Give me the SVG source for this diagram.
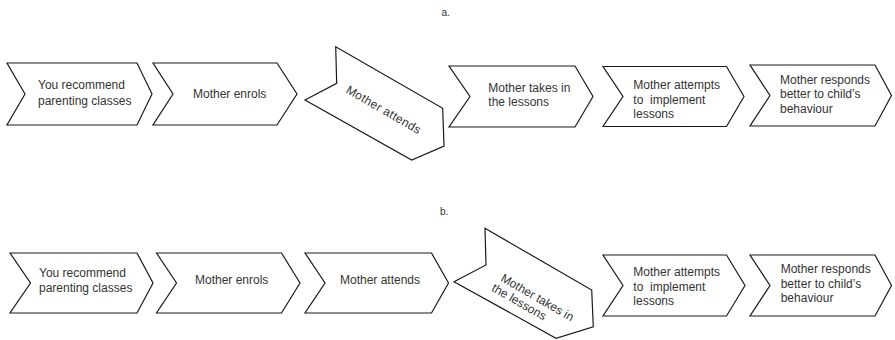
<svg xmlns="http://www.w3.org/2000/svg" width="895" height="340" viewBox="0 0 895 340">
<style>
  .chev { fill: #ffffff; stroke: #1a1a1a; stroke-width: 1.2; stroke-linejoin: miter; }
  .t { font-family: "Liberation Sans", Arial, sans-serif; font-size: 12px; fill: #333333; }
  .lbl { font-family: "Liberation Sans", Arial, sans-serif; font-size: 10px; fill: #333333; }
</style>
<rect width="895" height="340" fill="#ffffff"/>
<text class="lbl" x="441.5" y="15.5">a.</text>
<text class="lbl" x="440" y="215">b.</text>
<g id="connectors"></g>
<g id="a1"><path class="chev" d="M7,63 L137,63 L152,94 L137,125 L7,125 L25,94 Z"/>
  <text class="t" x="38" y="89">You recommend</text><text class="t" x="38" y="105">parenting classes</text></g>
<g id="a2"><path class="chev" d="M153,63 L277,63 L297,94 L277,125 L153,125 L173,94 Z"/>
  <text class="t" x="193" y="97.7">Mother enrols</text></g>
<g id="a3"><polygon class="chev" points="335.7,46.7 336.7,83.3 305,100 411.7,160 444,146 442.7,108.3"/>
  <text class="t" transform="translate(345.2,92.2) rotate(30)" x="0" y="0" textLength="84">Mother attends</text></g>
<g id="a4"><path class="chev" d="M449,66 L575,66 L593,96.5 L575,127 L449,127 L470,96.5 Z"/>
  <text class="t" x="488.3" y="91.7">Mother takes in</text><text class="t" x="488.3" y="105.5">the lessons</text></g>
<g id="a5"><path class="chev" d="M603,66.5 L726.5,66.5 L744,96.5 L726.5,126.5 L603,126.5 L623,96.5 Z"/>
  <text class="t" x="633.3" y="88.5">Mother attempts</text><text class="t" x="633.3" y="103.5" xml:space="preserve">to  implement</text><text class="t" x="633.3" y="118">lessons</text></g>
<g id="a6"><path class="chev" d="M750,65 L875,65 L891.5,95.5 L875,126 L750,126 L770,95.5 Z"/>
  <text class="t" x="780" y="83.5">Mother responds</text><text class="t" x="780" y="98.3">better to child’s</text><text class="t" x="780" y="112.5">behaviour</text></g>
<g id="b1"><path class="chev" d="M10,253 L137,253 L153,283 L137,313 L10,313 L30.5,283 Z"/>
  <text class="t" x="39" y="276.7">You recommend</text><text class="t" x="39" y="291.7">parenting classes</text></g>
<g id="b2"><path class="chev" d="M156.5,253 L281.5,253 L300,283 L281.5,313 L156.5,313 L176.5,283 Z"/>
  <text class="t" x="195" y="284.3">Mother enrols</text></g>
<g id="b3"><path class="chev" d="M305,253 L431.5,253 L448.5,283 L431.5,313 L305,313 L325,283 Z"/>
  <text class="t" x="340" y="284.3">Mother attends</text></g>
<g id="b4"><polygon class="chev" points="485,228.3 486,265 454,281.7 556,338.3 593.3,326.7 591.7,290"/>
  <g transform="translate(499.9,280.5) rotate(30)"><text class="t" x="0" y="0">Mother takes in</text><text class="t" x="-3" y="13">the lessons</text></g></g>
<g id="b5"><path class="chev" d="M603,255 L726.5,255 L745,285.5 L726.5,316 L603,316 L623,285.5 Z"/>
  <text class="t" x="633.3" y="276">Mother attempts</text><text class="t" x="633.3" y="290.5" xml:space="preserve">to  implement</text><text class="t" x="633.3" y="305">lessons</text></g>
<g id="b6"><path class="chev" d="M750,255 L875,255 L891.5,285.5 L875,316 L750,316 L770,285.5 Z"/>
  <text class="t" x="780.7" y="273.3">Mother responds</text><text class="t" x="780.7" y="288.3">better to child’s</text><text class="t" x="780.7" y="302.3">behaviour</text></g>
</svg>
